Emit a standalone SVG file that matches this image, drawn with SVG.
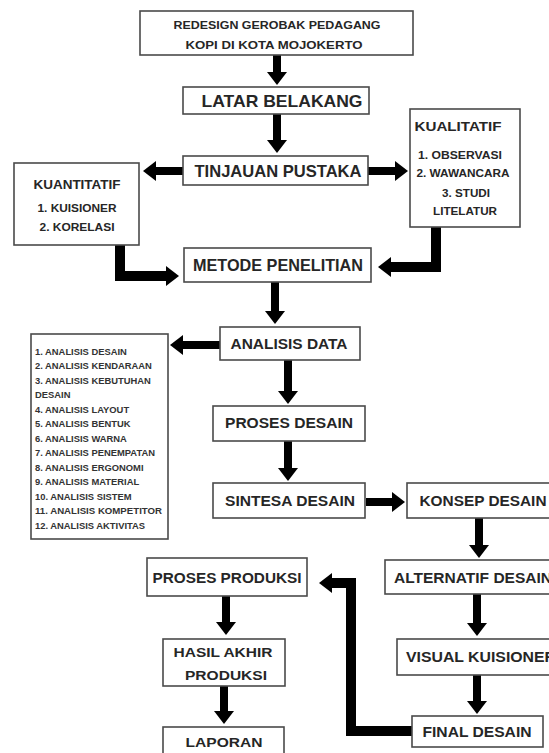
<svg xmlns="http://www.w3.org/2000/svg" width="549" height="753" viewBox="0 0 549 753">
<style>
.box{fill:#fff;stroke:#4a4a4a;stroke-width:1.6}
.t{font-family:"Liberation Sans",Arial,sans-serif;font-weight:bold;fill:#262626;text-anchor:middle;dominant-baseline:central}
.l{font-family:"Liberation Sans",Arial,sans-serif;font-weight:bold;fill:#333;font-size:9.4px;dominant-baseline:central}
.c{fill:none;stroke:#000;stroke-width:8;marker-end:url(#ah)}
.c2{fill:none;stroke:#000;stroke-width:10;stroke-linejoin:miter;marker-end:url(#ah)}
</style>
<defs>
<marker id="ah" viewBox="0 0 13 20" refX="1" refY="10" markerWidth="13" markerHeight="20" markerUnits="userSpaceOnUse" orient="auto">
<path d="M0,0 L13,10 L0,20 z" fill="#000"/>
</marker>
</defs>
<rect width="549" height="753" fill="#fff"/>
<g id="connectors">
<line class="c" x1="277" y1="55" x2="277" y2="73"/>
<line class="c" x1="277" y1="114" x2="277" y2="141"/>
<line class="c" x1="183" y1="171" x2="155" y2="171"/>
<line class="c" x1="368" y1="171" x2="396" y2="171"/>
<path class="c2" d="M120,245 V276 H167"/>
<path class="c2" d="M436,227 V267 H390"/>
<line class="c" x1="275" y1="282" x2="275" y2="312"/>
<line class="c" x1="220" y1="345" x2="182" y2="345"/>
<line class="c" x1="288" y1="360" x2="288" y2="392"/>
<line class="c" x1="288" y1="441" x2="288" y2="469"/>
<line class="c" x1="366" y1="502" x2="393" y2="502"/>
<line class="c" x1="479" y1="518" x2="479" y2="546"/>
<line class="c" x1="477" y1="594" x2="477" y2="624"/>
<line class="c" x1="477" y1="675" x2="477" y2="702"/>
<path class="c2" d="M412,731 H351 V583 H331"/>
<line class="c" x1="226" y1="596" x2="226" y2="623"/>
<line class="c" x1="224" y1="686" x2="224" y2="712"/>
</g>
<g id="title">
<rect class="box" x="140" y="11" width="273" height="44"/>
<text class="t" x="277" y="25" font-size="11.5" textLength="207" lengthAdjust="spacingAndGlyphs">REDESIGN GEROBAK PEDAGANG</text>
<text class="t" x="274" y="45" font-size="11.5" textLength="177" lengthAdjust="spacingAndGlyphs">KOPI DI KOTA MOJOKERTO</text>
</g>
<g id="latar">
<rect class="box" x="183" y="87" width="186" height="27"/>
<text class="t" x="282" y="101" font-size="17" textLength="161" lengthAdjust="spacingAndGlyphs">LATAR BELAKANG</text>
</g>
<g id="tinjauan">
<rect class="box" x="183" y="156" width="185" height="29"/>
<text class="t" x="278" y="171" font-size="17" textLength="167" lengthAdjust="spacingAndGlyphs">TINJAUAN PUSTAKA</text>
</g>
<g id="kuantitatif">
<rect class="box" x="14" y="163" width="125" height="82"/>
<text class="t" x="77" y="185" font-size="12" textLength="87" lengthAdjust="spacingAndGlyphs">KUANTITATIF</text>
<text class="t" x="77" y="208" font-size="11" textLength="79" lengthAdjust="spacingAndGlyphs">1. KUISIONER</text>
<text class="t" x="77" y="227" font-size="11" textLength="75" lengthAdjust="spacingAndGlyphs">2. KORELASI</text>
</g>
<g id="kualitatif">
<rect class="box" x="410" y="109" width="110" height="118"/>
<text class="t" x="458" y="127" font-size="12" textLength="87" lengthAdjust="spacingAndGlyphs">KUALITATIF</text>
<text class="t" x="460" y="155" font-size="10.5" textLength="84" lengthAdjust="spacingAndGlyphs">1. OBSERVASI</text>
<text class="t" x="463" y="173" font-size="10.5" textLength="93" lengthAdjust="spacingAndGlyphs">2. WAWANCARA</text>
<text class="t" x="466" y="193" font-size="10.5" textLength="48" lengthAdjust="spacingAndGlyphs">3. STUDI</text>
<text class="t" x="465" y="211" font-size="10.5" textLength="64" lengthAdjust="spacingAndGlyphs">LITELATUR</text>
</g>
<g id="metode">
<rect class="box" x="184" y="248" width="187" height="34"/>
<text class="t" x="278" y="265" font-size="17" textLength="170" lengthAdjust="spacingAndGlyphs">METODE PENELITIAN</text>
</g>
<g id="analisis-list">
<rect class="box" x="31" y="334" width="137" height="205"/>
<text class="l" x="35" y="351">1. ANALISIS DESAIN</text>
<text class="l" x="35" y="365.5">2. ANALISIS KENDARAAN</text>
<text class="l" x="35" y="380">3. ANALISIS KEBUTUHAN</text>
<text class="l" x="35" y="394.5">DESAIN</text>
<text class="l" x="35" y="409">4. ANALISIS LAYOUT</text>
<text class="l" x="35" y="423.5">5. ANALISIS BENTUK</text>
<text class="l" x="35" y="438">6. ANALISIS WARNA</text>
<text class="l" x="35" y="452.5">7. ANALISIS PENEMPATAN</text>
<text class="l" x="35" y="467">8. ANALISIS ERGONOMI</text>
<text class="l" x="35" y="481.5">9. ANALISIS MATERIAL</text>
<text class="l" x="35" y="496">10. ANALISIS SISTEM</text>
<text class="l" x="35" y="510.5" textLength="127" lengthAdjust="spacingAndGlyphs">11. ANALISIS KOMPETITOR</text>
<text class="l" x="35" y="525">12. ANALISIS AKTIVITAS</text>
</g>
<g id="analisis-data">
<rect class="box" x="220" y="327" width="140" height="33"/>
<text class="t" x="289" y="344" font-size="14" textLength="117" lengthAdjust="spacingAndGlyphs">ANALISIS DATA</text>
</g>
<g id="proses-desain">
<rect class="box" x="213" y="406" width="152" height="35"/>
<text class="t" x="289" y="423" font-size="14" textLength="128" lengthAdjust="spacingAndGlyphs">PROSES DESAIN</text>
</g>
<g id="sintesa">
<rect class="box" x="213" y="483" width="152" height="35"/>
<text class="t" x="290" y="501" font-size="14" textLength="130" lengthAdjust="spacingAndGlyphs">SINTESA DESAIN</text>
</g>
<g id="konsep">
<rect class="box" x="407" y="483" width="150" height="35"/>
<text class="t" x="483" y="501" font-size="14" textLength="127" lengthAdjust="spacingAndGlyphs">KONSEP DESAIN</text>
</g>
<g id="alternatif">
<rect class="box" x="385" y="560" width="172" height="34"/>
<text class="t" x="473" y="578" font-size="14" textLength="158" lengthAdjust="spacingAndGlyphs">ALTERNATIF DESAIN</text>
</g>
<g id="visual">
<rect class="box" x="397" y="639" width="160" height="36"/>
<text class="t" x="481" y="657" font-size="14" textLength="150" lengthAdjust="spacingAndGlyphs">VISUAL KUISIONER</text>
</g>
<g id="final">
<rect class="box" x="412" y="716" width="131" height="31"/>
<text class="t" x="477" y="732" font-size="14" textLength="109" lengthAdjust="spacingAndGlyphs">FINAL DESAIN</text>
</g>
<g id="proses-produksi">
<rect class="box" x="147" y="558" width="160" height="38"/>
<text class="t" x="227" y="578" font-size="14" textLength="149" lengthAdjust="spacingAndGlyphs">PROSES PRODUKSI</text>
</g>
<g id="hasil">
<rect class="box" x="163" y="639" width="122" height="47"/>
<text class="t" x="223" y="652" font-size="13.5" textLength="99" lengthAdjust="spacingAndGlyphs">HASIL AKHIR</text>
<text class="t" x="226" y="675" font-size="13.5" textLength="82" lengthAdjust="spacingAndGlyphs">PRODUKSI</text>
</g>
<g id="laporan">
<rect class="box" x="163" y="727" width="121" height="32"/>
<text class="t" x="224" y="742" font-size="13.5" textLength="77" lengthAdjust="spacingAndGlyphs">LAPORAN</text>
</g>
</svg>
